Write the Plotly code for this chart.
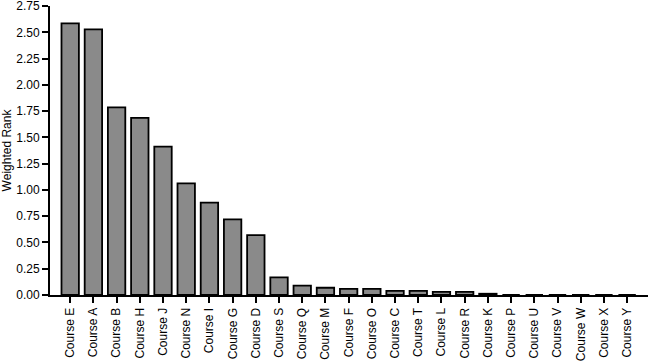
import plotly.graph_objects as go

courses = ["Course E", "Course A", "Course B", "Course H", "Course J", "Course N",
           "Course I", "Course G", "Course D", "Course S", "Course Q", "Course M",
           "Course F", "Course O", "Course C", "Course T", "Course L", "Course R",
           "Course K", "Course P", "Course U", "Course V", "Course W", "Course X",
           "Course Y"]
weighted_rank = [2.585, 2.528, 1.785, 1.686, 1.413, 1.063,
                 0.88, 0.72, 0.569, 0.168, 0.09, 0.069,
                 0.058, 0.058, 0.04, 0.04, 0.03, 0.03,
                 0.012, 0.0, 0.0, 0.0, 0.0, 0.0, 0.0]
y_ticks = [0.0, 0.25, 0.5, 0.75, 1.0, 1.25, 1.5, 1.75, 2.0, 2.25, 2.5, 2.75]

fig = go.Figure(go.Bar(
    x=courses, y=weighted_rank,
    marker=dict(color="#8a8a8a", line=dict(color="black", width=1.8)),
    width=0.75,
))

font = dict(family="Liberation Sans, Arial, sans-serif", size=12, color="black")
fig.update_layout(
    width=649, height=362,
    margin=dict(l=50, r=1, t=6, b=67, autoexpand=False),
    plot_bgcolor="white", paper_bgcolor="white",
    font=font,
    showlegend=False,
    bargap=0.25,
)
fig.update_xaxes(
    type="category", automargin=False,
    range=[-0.87, len(courses) - 1 + 0.9],
    showline=True, linecolor="black", linewidth=2,
    ticks="outside", ticklen=6, tickwidth=1.5, tickcolor="black",
    tickangle=-90, showgrid=False, zeroline=False,
    tickfont=font,
)
fig.update_yaxes(
    automargin=False,
    range=[0, 2.7505],
    tickvals=y_ticks, ticktext=[f"{v:.2f}" for v in y_ticks],
    ticklabeloverflow="allow",
    showline=True, linecolor="black", linewidth=2,
    ticks="outside", ticklen=6, tickwidth=1.5, tickcolor="black",
    showgrid=False, zeroline=False,
    title=dict(text="Weighted Rank", font=font, standoff=4),
    tickfont=font,
)

fig.write_html("out.html", config={"displayModeBar": False},
               post_script="document.body.style.margin='0';")
